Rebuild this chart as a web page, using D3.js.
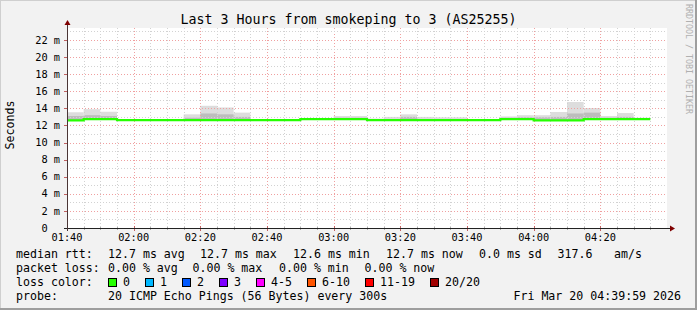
<!DOCTYPE html>
<html><head><meta charset="utf-8">
<script src="https://cdn.jsdelivr.net/npm/d3@7"></script>
<style>html,body{margin:0;padding:0;background:#f2f2f2;} svg{display:block}</style>
</head><body><svg id="c" width="697" height="310"></svg>
<script>
// ---------- data ----------
const title = "Last 3 Hours from smokeping to 3 (AS25255)";
const stepStarts = ["01:40","01:45","01:50","01:55","02:00","02:05","02:10","02:15","02:20","02:25",
  "02:30","02:35","02:40","02:45","02:50","02:55","03:00","03:05","03:10","03:15",
  "03:20","03:25","03:30","03:35","03:40","03:45","03:50","03:55","04:00","04:05",
  "04:10","04:15","04:20","04:25","04:30"];
const medianMs = [12.60,12.74,12.74,12.61,12.61,12.61,12.61,12.61,12.61,12.61,
  12.61,12.61,12.61,12.61,12.73,12.73,12.73,12.73,12.62,12.62,
  12.62,12.62,12.62,12.62,12.62,12.62,12.74,12.74,12.59,12.59,
  12.59,12.73,12.73,12.73,12.73];
const smokeTopMs = [13.54,13.90,13.60,12.70,12.70,12.70,12.70,13.30,14.30,14.10,
  13.50,12.70,12.70,12.70,12.85,12.85,13.10,13.10,12.80,13.00,
  13.30,13.00,12.95,12.95,12.75,12.75,13.05,13.20,13.20,13.57,
  14.74,14.04,13.10,13.45,12.90];
const smokeMidMs = [13.10,13.20,13.10,12.61,12.61,12.61,12.61,12.90,13.40,13.30,
  13.00,12.61,12.61,12.61,12.73,12.73,12.90,12.90,12.62,12.62,
  13.00,12.62,12.62,12.62,12.62,12.62,12.90,12.95,12.95,13.00,
  13.40,13.50,12.90,13.00,12.73];
const timeStart = "01:40", timeEnd = "04:40", stepMinutes = 5;
const xTickLabels = ["01:40","02:00","02:20","02:40","03:00","03:20","03:40","04:00","04:20"];
const yTicksMs = [0,2,4,6,8,10,12,14,16,18,20,22];
const yMaxMs = 23.4;
const legendRtt = ["12.7 ms avg","12.7 ms max","12.6 ms min","12.7 ms now","0.0 ms sd","317.6","am/s"];
const legendLoss = ["0.00 % avg","0.00 % max","0.00 % min","0.00 % now"];
const lossLabels = ["0","1","2","3","4-5","6-10","11-19","20/20"];
const lossColors = ["#26ff00","#00b8ff","#0059ff","#7e00ff","#ff00ff","#ff5500","#ff0000","#a10000"];
const probeText = "20 ICMP Echo Pings (56 Bytes) every 300s";
const dateText = "Fri Mar 20 04:39:59 2026";
const unitLabel = "Seconds";
const watermark = "RRDTOOL / TOBI OETIKER";

// ---------- layout ----------
const W = 697, H = 310;
const X0 = 67, X1 = 667, Y0 = 228, Y1 = 28;
const MONO = "'DejaVu Sans Mono', monospace";
const svg = d3.select("#c");
const parseT = s => { const [h,m] = s.split(":").map(Number); return new Date(Date.UTC(2026,2,20,h,m)); };
const x = d3.scaleUtc().domain([parseT(timeStart), parseT(timeEnd)]).range([X0, X1]);
const y = d3.scaleLinear().domain([0, yMaxMs]).range([Y0, Y1]);
const fmt = d3.utcFormat("%H:%M");

svg.append("rect").attr("width",W).attr("height",H).attr("fill","#f2f2f2");
// frame shade
svg.append("rect").attr("x",W-2).attr("y",0).attr("width",2).attr("height",H).attr("fill","#9e9e9e");
svg.append("rect").attr("x",0).attr("y",H-2).attr("width",W).attr("height",2).attr("fill","#9e9e9e");
svg.append("rect").attr("x",0).attr("y",0).attr("width",W-2).attr("height",1).attr("fill","#cfcfcf");
svg.append("rect").attr("x",0).attr("y",0).attr("width",1).attr("height",H-2).attr("fill","#cfcfcf");

// canvas
svg.append("rect").attr("x",X0).attr("y",Y1).attr("width",X1-X0).attr("height",Y0-Y1).attr("fill","#ffffff");

// smoke
const steps = stepStarts.map((s,i) => {
  const t0 = parseT(s);
  return {t0, t1: d3.utcMinute.offset(t0, stepMinutes), med: medianMs[i], top: smokeTopMs[i], mid: smokeMidMs[i]};
});
const gSmoke = svg.append("g");
gSmoke.selectAll("rect.light").data(steps).join("rect").attr("class","light")
  .attr("x", d => x(d.t0)).attr("width", d => x(d.t1) - x(d.t0))
  .attr("y", d => y(d.top)).attr("height", d => Math.max(0, y(d.med) - y(d.top)))
  .attr("fill","#dddddd");
gSmoke.selectAll("rect.mid").data(steps).join("rect").attr("class","mid")
  .attr("x", d => x(d.t0)).attr("width", d => x(d.t1) - x(d.t0))
  .attr("y", d => y(d.mid)).attr("height", d => Math.max(0, y(d.med) - y(d.mid)))
  .attr("fill","#bdbdbd");

// grid
const gGrid = svg.append("g").attr("shape-rendering","crispEdges");
const minorX = d3.utcMinute.every(5).range(d3.utcMinute.offset(parseT(timeStart),5), parseT(timeEnd));
const majorX = xTickLabels.map(parseT);
const majorSet = new Set(majorX.map(d => +d));
gGrid.selectAll("line.mx").data(minorX.filter(d => !majorSet.has(+d))).join("line")
  .attr("x1", d => Math.round(x(d))+0.5).attr("x2", d => Math.round(x(d))+0.5)
  .attr("y1", Y1).attr("y2", Y0).attr("stroke","#d2d2d2").attr("stroke-dasharray","1,2");
gGrid.selectAll("line.Mx").data(majorX.filter(d => +d !== +parseT(timeStart))).join("line")
  .attr("x1", d => Math.round(x(d))+0.5).attr("x2", d => Math.round(x(d))+0.5)
  .attr("y1", Y1).attr("y2", Y0).attr("stroke","#f0a0a0").attr("stroke-dasharray","1,2");
const minorY = d3.range(1, Math.floor(yMaxMs)+1).filter(v => v % 2 !== 0);
gGrid.selectAll("line.my").data(minorY).join("line")
  .attr("x1", X0).attr("x2", X1).attr("y1", d => Math.round(y(d))+0.5).attr("y2", d => Math.round(y(d))+0.5)
  .attr("stroke","#d2d2d2").attr("stroke-dasharray","1,2");
gGrid.selectAll("line.My").data(yTicksMs.filter(v => v > 0)).join("line")
  .attr("x1", X0).attr("x2", X1).attr("y1", d => Math.round(y(d))+0.5).attr("y2", d => Math.round(y(d))+0.5)
  .attr("stroke","#f0a0a0").attr("stroke-dasharray","1,2");

// median line
const pts = steps.map(d => [x(d.t0), y(d.med)]);
pts.push([x(steps[steps.length-1].t1), y(steps[steps.length-1].med)]);
svg.append("path").attr("d", d3.line().curve(d3.curveStepAfter)(pts))
  .attr("fill","none").attr("stroke","#26ff00").attr("stroke-width",2.2);

// axes
const gAx = svg.append("g").attr("shape-rendering","crispEdges");
gAx.selectAll("line.yt").data(yTicksMs).join("line")
  .attr("x1", X0-3).attr("x2", X0).attr("y1", d => Math.round(y(d))+0.5).attr("y2", d => Math.round(y(d))+0.5)
  .attr("stroke","#c06060");
gAx.selectAll("line.xt").data(majorX).join("line")
  .attr("x1", d => Math.round(x(d))+0.5).attr("x2", d => Math.round(x(d))+0.5)
  .attr("y1", Y0-2).attr("y2", Y0+3).attr("stroke","#c06060");
gAx.selectAll("line.xmt").data(minorX.filter(d => !majorSet.has(+d))).join("line")
  .attr("x1", d => Math.round(x(d))+0.5).attr("x2", d => Math.round(x(d))+0.5)
  .attr("y1", Y0-1).attr("y2", Y0+2).attr("stroke","#aaaaaa");
gAx.append("line").attr("x1", X0-3).attr("x2", X1+4).attr("y1", Y0+0.5).attr("y2", Y0+0.5).attr("stroke","#222");
gAx.append("line").attr("x1", X0+0.5).attr("x2", X0+0.5).attr("y1", Y0+3).attr("y2", Y1-5).attr("stroke","#4a3535");
svg.append("path").attr("d", `M${X0+0.5-3},${Y1-3} L${X0+0.5+3},${Y1-3} L${X0+0.5},${Y1-8} Z`).attr("fill","#7f0000");
svg.append("path").attr("d", `M${X1+3},${Y0+0.5-3} L${X1+3},${Y0+0.5+3} L${X1+8},${Y0+0.5} Z`).attr("fill","#7f0000");

// tick labels (value column right-aligned, unit column after it)
const AXF = 10.3, ACW = AXF * 0.602;
svg.append("g").selectAll("text").data(yTicksMs).join("text")
  .attr("x", d => d === 0 ? 60 - 2*ACW : 60).attr("y", d => y(d) + 3.6).attr("text-anchor","end")
  .attr("font-family", MONO).attr("font-size", AXF + "px").attr("fill","#000")
  .text(d => d === 0 ? "0" : d + " m");
svg.append("g").selectAll("text").data(majorX).join("text")
  .attr("x", d => x(d)).attr("y", 241).attr("text-anchor","middle")
  .attr("font-family", MONO).attr("font-size", AXF + "px").attr("fill","#000")
  .text(d => fmt(d));

// title
svg.append("text").attr("x", W/2).attr("y", 24).attr("text-anchor","middle")
  .attr("font-family", MONO).attr("font-size","13.3px").attr("fill","#000").text(title);
// unit
svg.append("text").attr("transform", `translate(14,125) rotate(-90)`).attr("text-anchor","middle")
  .attr("font-family", MONO).attr("font-size","11.6px").attr("fill","#000").text(unitLabel);
// watermark
svg.append("text").attr("transform", `translate(686,4) rotate(90)`).attr("text-anchor","start")
  .attr("font-family", MONO).attr("font-size","8.3px").attr("fill","#b0b0b0").text(watermark);

// legend
const LF = "11.6px", CW = 7.0;
function txt(xp, yp, s, anchor) {
  svg.append("text").attr("x", xp).attr("y", yp).attr("text-anchor", anchor || "start")
    .attr("font-family", MONO).attr("font-size", LF).attr("fill","#000")
    .attr("xml:space","preserve").style("white-space","pre").text(s);
}
const rowY = [258.3, 272.2, 286.1, 300];
const rttX = [108, 200, 293, 386, 479, 557.5, 614];
txt(16, rowY[0], "median rtt:");
legendRtt.forEach((s,i) => txt(rttX[i], rowY[0], s));
const lossX = [108, 192.5, 279, 364.5];
txt(16, rowY[1], "packet loss:");
legendLoss.forEach((s,i) => txt(lossX[i], rowY[1], s));
txt(16, rowY[2], "loss color:");
let lx = 108;
lossLabels.forEach((s,i) => {
  svg.append("rect").attr("x", lx+0.5).attr("y", 278.5).attr("width", 8).attr("height", 8)
    .attr("fill", lossColors[i]).attr("stroke","#000").attr("stroke-width",1);
  txt(lx + 15, rowY[2], s);
  lx = lx + 15 + s.length*CW + 15;
});
txt(16, rowY[3], "probe:");
txt(108, rowY[3], probeText);
txt(681, rowY[3], dateText, "end");
</script>
</body></html>
